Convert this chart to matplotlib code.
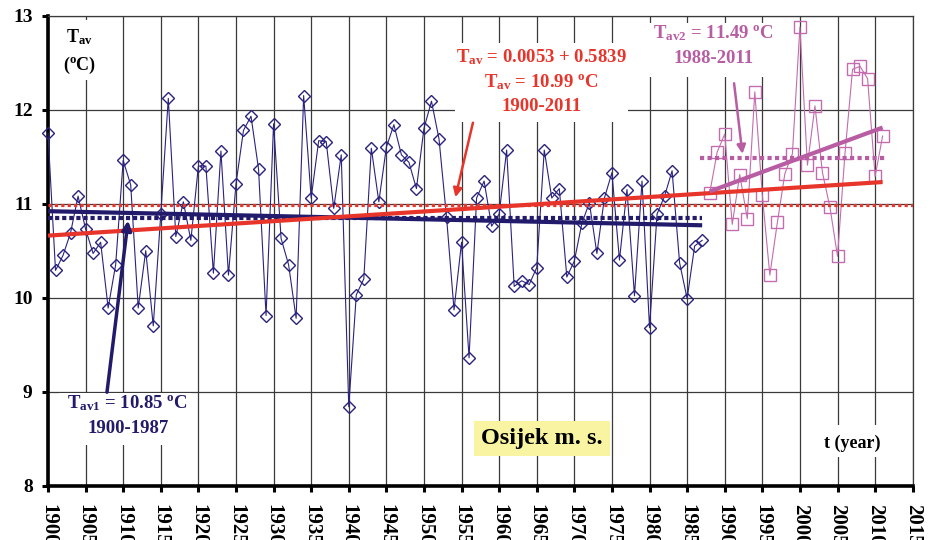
import numpy as np
import matplotlib
matplotlib.use('Agg')
import matplotlib.pyplot as plt
from matplotlib.patches import Rectangle

# --- data ---
years_1 = np.arange(1900, 1988)
temps_1 = [11.75, 10.29, 10.45, 10.69, 11.08, 10.73, 10.47, 10.59, 9.89, 10.35,
           11.46, 11.20, 9.89, 10.50, 9.70, 10.89, 12.12, 10.65, 11.02, 10.61,
           11.40, 11.40, 10.26, 11.56, 10.24, 11.21, 11.78, 11.93, 11.37, 9.81,
           11.85, 10.63, 10.35, 9.78, 12.15, 11.06, 11.67, 11.66, 10.95, 11.52,
           8.84, 10.03, 10.20, 11.59, 11.02, 11.60, 11.84, 11.52, 11.44, 11.16,
           11.80, 12.09, 11.69, 10.86, 9.87, 10.59, 9.36, 11.06, 11.24, 10.76,
           10.89, 11.57, 10.12, 10.18, 10.14, 10.32, 11.57, 11.06, 11.16, 10.22,
           10.39, 10.79, 11.01, 10.47, 11.06, 11.33, 10.40, 11.15, 10.02, 11.24,
           9.68, 10.89, 11.08, 11.35, 10.37, 9.99, 10.55, 10.61]

years_2 = np.arange(1988, 2012)
temps_2 = [11.11, 11.55, 11.74, 10.78, 11.31, 10.84, 12.19, 11.09, 10.24, 10.80,
           11.32, 11.53, 12.88, 11.41, 12.04, 11.33, 10.96, 10.44, 11.54, 12.43,
           12.46, 12.33, 11.29, 11.72]

mean_all, mean_1, mean_2 = 10.99, 10.85, 11.49
trend_all_years, trend_all = [1900, 2011], [10.66, 11.23]
trend_1_years, trend_1 = [1900, 1987], [10.92, 10.77]
trend_2_years, trend_2 = [1988, 2011], [11.13, 11.81]

xticks = list(range(1900, 2016, 5))
xtick_labels = [str(y) for y in xticks]
yticks = [8, 9, 10, 11, 12, 13]

navy = '#2A2280'
navy_dark = '#221B6C'
red = '#E8352B'
pink = '#C46CAE'
pink_dark = '#B85DA3'

plt.rcParams['font.family'] = ['Liberation Serif', 'DejaVu Serif']
plt.rcParams['font.weight'] = 'bold'
plt.rcParams['mathtext.fontset'] = 'custom'
plt.rcParams['mathtext.rm'] = 'Liberation Serif:bold'
plt.rcParams['mathtext.it'] = 'Liberation Serif:bold'
plt.rcParams['mathtext.bf'] = 'Liberation Serif:bold'

fig = plt.figure(figsize=(9.3, 5.4), dpi=100)
fig.patch.set_facecolor('white')
ax = fig.add_axes([0.0516, 0.1006, 0.9298, 0.8704])

ax.set_xlim(1900, 2015)
ax.set_ylim(8, 13)
ax.set_axisbelow(True)
ax.grid(True, color='#3a3a3a', lw=0.9)

for side in ['left', 'bottom']:
    ax.spines[side].set_linewidth(2.6)
    ax.spines[side].set_color('black')
for side in ['top', 'right']:
    ax.spines[side].set_linewidth(0.9)
    ax.spines[side].set_color('#3a3a3a')

ax.set_xticks(xticks)
ax.set_xticklabels(xtick_labels, rotation=270, ha='center', va='top')
ax.set_yticks(yticks)
ax.tick_params(axis='both', direction='out', length=4, width=2.2)
ax.tick_params(axis='x', pad=9, labelsize=15)
ax.tick_params(axis='y', pad=7, labelsize=14)

# white areas behind the labels (break the grid like the original)
for (x0, y0, w, h) in [(1954.1, 11.87, 23.1, 0.84), (1901.5, 8.43, 17.5, 0.56),
                       (1978.7, 12.35, 17.9, 0.57), (2001.9, 8.30, 10.0, 0.345),
                       (1902.2, 12.32, 5.3, 0.63)]:
    ax.add_patch(Rectangle((x0, y0), w, h, facecolor='white', edgecolor='none', zorder=0.8))

# data series
ax.plot(years_1, temps_1, color=navy, lw=0.8, marker='D', ms=6, mfc='none',
        mew=1.0, clip_on=False, zorder=3)
ax.plot(years_2, temps_2, color=pink, lw=0.8, marker='s', ms=9, mfc='none',
        mew=1.0, clip_on=False, zorder=3)

# means and trends
ax.plot([1900, 1987], [mean_1, mean_1], color=navy_dark, lw=3, ls=(0, (1, 0.7)), zorder=4)
ax.plot(trend_1_years, trend_1, color=navy_dark, lw=3, solid_capstyle='butt', zorder=4)
ax.plot([1900, 2015], [mean_all, mean_all], color=red, lw=2.3, ls=(0, (1, 1)), zorder=5)
ax.plot(trend_all_years, trend_all, color=red, lw=3, solid_capstyle='butt', zorder=5)
ax.plot([1986.7, 2011.6], [mean_2, mean_2], color=pink_dark, lw=3, ls=(0, (1, 0.8)), zorder=6)
ax.plot(trend_2_years, trend_2, color=pink_dark, lw=3, solid_capstyle='butt', zorder=6)

# arrows
ax.annotate('', xy=(1910.7, 10.85), xytext=(1907.8, 8.965),
            arrowprops=dict(arrowstyle='-|>', color=navy_dark, lw=2.5, mutation_scale=14),
            zorder=7)
ax.annotate('', xy=(1954.1, 11.04), xytext=(1956.6, 11.89),
            arrowprops=dict(arrowstyle='-|>', color=red, lw=1.8, mutation_scale=13),
            zorder=7)
ax.annotate('', xy=(1992.4, 11.50), xytext=(1991.2, 12.31),
            arrowprops=dict(arrowstyle='-|>', color=pink_dark, lw=1.8, mutation_scale=13),
            zorder=7)

# labels
txt = dict(ha='center', va='center', zorder=8)
ax.text(1965.65, 12.56, r'T$_{\rm av}$ = 0.0053 + 0.5839', color=red, fontsize=13.5, **txt)
ax.text(1965.65, 12.295, r'T$_{\rm av}$ = 10.99 $^{\rm o}$C', color=red, fontsize=13.5, **txt)
ax.text(1965.65, 12.03, '1900-2011', color=red, fontsize=13.5, **txt)

ax.text(1988.5, 12.816, r'T$_{\rm av2}$ = 11.49 $^{\rm o}$C', color=pink_dark, fontsize=13.5, **txt)
ax.text(1988.5, 12.54, '1988-2011', color=pink_dark, fontsize=13.5, **txt)

ax.text(1910.6, 8.88, r'T$_{\rm av1}$ = 10.85 $^{\rm o}$C', color=navy_dark, fontsize=13.5, **txt)
ax.text(1910.6, 8.61, '1900-1987', color=navy_dark, fontsize=13.5, **txt)

ax.text(1904.2, 12.77, r'T$_{\rm av}$', color='black', fontsize=13, **txt)
ax.text(1904.2, 12.475, r'($^{\rm o}$C)', color='black', fontsize=13, **txt)
ax.text(2006.9, 8.455, 't (year)', color='black', fontsize=13, **txt)

ax.text(1965.65, 8.50, 'Osijek m. s.', color='black', fontsize=17.5,
        bbox=dict(boxstyle='square,pad=0.3', facecolor='#F8F4A2', edgecolor='none'), **txt)

fig.savefig('out.png', dpi=100, facecolor='white')
